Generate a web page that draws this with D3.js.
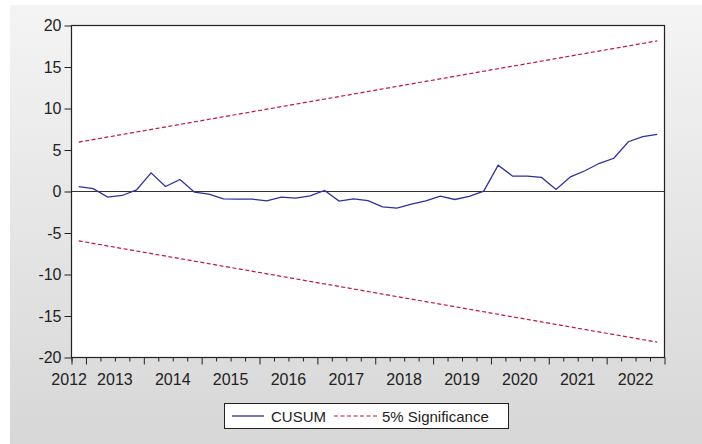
<!DOCTYPE html>
<html lang="en">
<head>
  <meta charset="UTF-8">
  <title>CUSUM</title>
  <script src="https://d3js.org/d3.v7.min.js"></script>
  <style>
    body { margin: 0; background: #fff; }
    text { font-family: "Liberation Sans", Arial, sans-serif; fill: #222; }
  </style>
</head>
<body>
  <svg id="chart" width="702" height="444"></svg>

  <script>
    // quarterly observations 2012Q4 .. 2022Q4
    const quarters = ["2012Q4",
      "2013Q1","2013Q2","2013Q3","2013Q4",
      "2014Q1","2014Q2","2014Q3","2014Q4",
      "2015Q1","2015Q2","2015Q3","2015Q4",
      "2016Q1","2016Q2","2016Q3","2016Q4",
      "2017Q1","2017Q2","2017Q3","2017Q4",
      "2018Q1","2018Q2","2018Q3","2018Q4",
      "2019Q1","2019Q2","2019Q3","2019Q4",
      "2020Q1","2020Q2","2020Q3","2020Q4",
      "2021Q1","2021Q2","2021Q3","2021Q4",
      "2022Q1","2022Q2","2022Q3","2022Q4"]

    const cusum = [0.6,
      0.35, -0.68, -0.48, 0.2,
      2.25, 0.6, 1.45, -0.08,
      -0.32, -0.88, -0.92, -0.92,
      -1.12, -0.68, -0.8, -0.52,
      0.12, -1.16, -0.88, -1.1,
      -1.85, -2.0, -1.53, -1.12,
      -0.56, -0.96, -0.6, 0.04,
      3.17, 1.85, 1.85, 1.69,
      0.24, 1.77, 2.5, 3.4,
      4.0, 6.0, 6.6, 6.87]

    // 5% significance bounds (straight lines), first and last observation
    const boundQuarters = ["2012Q4", "2022Q4"]
    const upperBound = [5.95, 18.15]
    const lowerBound = [-5.95, -18.15]

    const yTicks = [-20, -15, -10, -5, 0, 5, 10, 15, 20]
    const yearLabels = ["2012","2013","2014","2015","2016","2017","2018","2019","2020","2021","2022"]
    const legendLabels = ["CUSUM", "5% Significance"]

    const blue = "#2f2f9f"
    const red = "#c0143c"

    // quarter "YYYYQn" -> decimal year at middle of the quarter
    const qMid = q => +q.slice(0, 4) + (+q.slice(5) - 1) * 0.25 + 0.125

    const svg = d3.select("#chart")

    const defs = svg.append("defs")
    const grad = defs.append("linearGradient").attr("id", "bg")
      .attr("x1", 0).attr("y1", 0).attr("x2", 0).attr("y2", 1)
    grad.append("stop").attr("offset", "0%").attr("stop-color", "#f4f4f4")
    grad.append("stop").attr("offset", "100%").attr("stop-color", "#d7d7d7")

    svg.append("rect").attr("x", 10).attr("y", 5).attr("width", 692).attr("height", 439)
      .attr("fill", "url(#bg)")

    const pLeft = 71.5, pRight = 664.5, pTop = 25.5, pBottom = 357.5

    const x = d3.scaleLinear()
      .domain([2012.75, 2023])
      .range([pLeft, pRight])

    const y = d3.scaleLinear()
      .domain([-20, 20])
      .range([pBottom, pTop])

    svg.append("rect")
      .attr("x", pLeft).attr("y", pTop)
      .attr("width", pRight - pLeft).attr("height", pBottom - pTop)
      .attr("fill", "#fff")

    // y axis (plain hyphen for negatives)
    const yAxis = svg.append("g")
      .attr("transform", "translate(" + pLeft + ",0)")
      .call(d3.axisLeft(y).tickValues(yTicks).tickSize(7).tickPadding(3).tickFormat(d => String(d)))
    yAxis.select(".domain").remove()
    yAxis.selectAll("line").attr("stroke", "#222")
    yAxis.selectAll("text").style("font-size", "16px").attr("fill", "#222")

    // x axis: quarter ticks, long ones at year starts
    const qBounds = d3.range(0, 42).map(i => 2012.75 + i * 0.25)
    const xMinor = svg.append("g")
      .attr("transform", "translate(0," + pBottom + ")")
      .call(d3.axisBottom(x).tickValues(qBounds.filter(v => v % 1 !== 0)).tickSize(4).tickFormat(""))
    xMinor.select(".domain").remove()
    xMinor.selectAll("line").attr("stroke", "#222")

    const xMajor = svg.append("g")
      .attr("transform", "translate(0," + pBottom + ")")
      .call(d3.axisBottom(x).tickValues([2012.75].concat(qBounds.filter(v => v % 1 === 0))).tickSize(7).tickFormat(""))
    xMajor.select(".domain").remove()
    xMajor.selectAll("line").attr("stroke", "#222")

    // year labels centred in each year
    svg.append("g").selectAll("text")
      .data(yearLabels)
      .join("text")
      .attr("x", (d, i) => i === 0 ? x(2013) + 1 : x(+d + 0.5))
      .attr("y", 385)
      .attr("text-anchor", (d, i) => i === 0 ? "end" : "middle")
      .style("font-size", "16px")
      .text(d => d)

    // zero line
    svg.append("line")
      .attr("x1", pLeft).attr("x2", pRight)
      .attr("y1", y(0)).attr("y2", y(0))
      .attr("stroke", "#333").attr("stroke-width", 1)

    const line = d3.line().x(d => x(qMid(d[0]))).y(d => y(d[1]))

    svg.append("path")
      .datum(d3.zip(boundQuarters, upperBound))
      .attr("fill", "none").attr("stroke", red).attr("stroke-width", 1.2)
      .attr("stroke-dasharray", "4,2.5")
      .attr("d", line)

    svg.append("path")
      .datum(d3.zip(boundQuarters, lowerBound))
      .attr("fill", "none").attr("stroke", red).attr("stroke-width", 1.2)
      .attr("stroke-dasharray", "4,2.5")
      .attr("d", line)

    svg.append("path")
      .datum(d3.zip(quarters, cusum))
      .attr("fill", "none").attr("stroke", blue).attr("stroke-width", 1.3)
      .attr("d", line)

    // frame
    svg.append("rect")
      .attr("x", pLeft).attr("y", pTop)
      .attr("width", pRight - pLeft).attr("height", pBottom - pTop)
      .attr("fill", "none").attr("stroke", "#222").attr("stroke-width", 1.2)

    // legend
    const lg = svg.append("g")
    lg.append("rect")
      .attr("x", 224.5).attr("y", 403.5).attr("width", 284).attr("height", 25)
      .attr("fill", "#fff").attr("stroke", "#222")
    lg.append("line")
      .attr("x1", 232).attr("x2", 264).attr("y1", 416).attr("y2", 416)
      .attr("stroke", blue).attr("stroke-width", 1.3)
    lg.append("text").attr("x", 271).attr("y", 421.5)
      .style("font-size", "15px").text(legendLabels[0])
    lg.append("line")
      .attr("x1", 334).attr("x2", 377).attr("y1", 416).attr("y2", 416)
      .attr("stroke", red).attr("stroke-width", 1.2).attr("stroke-dasharray", "4,2.5")
    lg.append("text").attr("x", 382).attr("y", 421.5)
      .style("font-size", "15px").text(legendLabels[1])
  </script>
</body>
</html>
